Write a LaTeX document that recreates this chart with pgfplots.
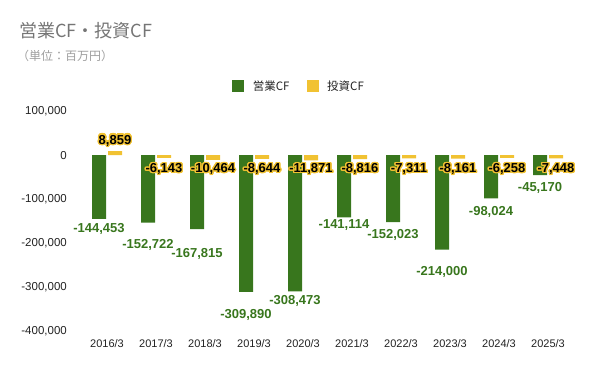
\documentclass[border=0pt]{standalone}
\usepackage{fontspec}
\setmainfont{Liberation Sans}
\newfontfamily\cjk{Noto Sans CJK JP}
\usepackage{pgfplots}
\usepackage{pgfplotstable}
\pgfplotsset{compat=1.18}
\usepackage{contour}
\contourlength{1.3pt}
\contournumber{24}
\definecolor{cfg}{HTML}{38761D}
\definecolor{cfy}{HTML}{F1C232}
\definecolor{titlegray}{HTML}{757575}
\definecolor{subgray}{HTML}{9E9E9E}
\definecolor{ticktext}{HTML}{222222}

% operating CF: value, label offset from bar end (bp)
\pgfplotstableread{
x val dy
0 -144453 -10
1 -152722 -22
2 -167815 -24.5
3 -309890 -23
4 -308473 -10
5 -141114 -8
6 -152023 -13
7 -214000 -22
8 -98024 -14
9 -45170 -12.7
}\opcf
% investing CF
\pgfplotstableread{
x val dy
0 8859 10
1 -6143 -11.8
2 -10464 -9.9
3 -8644 -10.7
4 -11871 -9.3
5 -8816 -10.6
6 -7311 -11.3
7 -8161 -10.9
8 -6258 -11.7
9 -7448 -11.2
}\invcf

\begin{document}
\begin{tikzpicture}
\useasboundingbox (0bp,0bp) rectangle (600bp,371bp);
\node[anchor=west, inner sep=0pt, text=titlegray, font=\cjk\fontsize{18bp}{20bp}\selectfont] at (19bp,340.5bp) {営業CF・投資CF};
\node[anchor=west, inner sep=0pt, text=subgray, font=\cjk\fontsize{12bp}{14bp}\selectfont] at (17bp,315.5bp) {（単位：百万円）};
\begin{axis}[
  at={(82.5bp,39.3bp)}, anchor=south west,
  scale only axis, width=490bp, height=220.7bp,
  xmin=-0.5, xmax=9.5, ymin=-400000, ymax=100000,
  ybar=2bp, bar width=14bp,
  axis line style={draw=none},
  major tick length=0pt,
  xtick={0,...,9},
  xticklabels={2016/3,2017/3,2018/3,2019/3,2020/3,2021/3,2022/3,2023/3,2024/3,2025/3},
  ytick={-400000,-300000,-200000,-100000,0,100000},
  scaled y ticks=false,
  yticklabel style={font=\fontsize{11.5bp}{12bp}\selectfont, text=ticktext, inner sep=0pt, anchor=east, xshift=-15.5bp,
    /pgf/number format/fixed, /pgf/number format/1000 sep={,}, /pgf/number format/assume math mode=true},
  xticklabel style={font=\fontsize{11bp}{12bp}\selectfont, text=ticktext, inner sep=0pt, anchor=base, yshift=-16.3bp},
  legend columns=2,
  legend style={at={(0.305,1.113)}, anchor=west, draw=none, fill=none, inner sep=0pt,
    font=\cjk\fontsize{11.5bp}{12bp}\selectfont, text=ticktext,
    /tikz/every even column/.append style={column sep=17bp},
    nodes={inner sep=0pt}},
]
\addplot[fill=cfg, draw=none,
  legend image code/.code={\fill[cfg] (0bp,-6bp) rectangle (12bp,6bp); \path (20.7bp,0bp);},
  nodes near coords, point meta=y,
  visualization depends on={\thisrow{dy} \as \mydy},
  every node near coord/.append style={anchor=center, yshift=\mydy bp, text=cfg, inner sep=0pt,
    font=\bfseries\fontsize{13bp}{14bp}\selectfont,
    /pgf/number format/fixed, /pgf/number format/1000 sep={,}, /pgf/number format/assume math mode=true}
] table[x=x, y=val] {\opcf};
\addlegendentry{営業CF}
\addplot[fill=cfy, draw=none,
  legend image code/.code={\fill[cfy] (0bp,-6bp) rectangle (12bp,6bp); \path (20.7bp,0bp);},
  nodes near coords={\contour{cfy}{\pgfmathprintnumber{\pgfplotspointmeta}}}, point meta=y,
  visualization depends on={\thisrow{dy} \as \mydy},
  every node near coord/.append style={anchor=center, yshift=\mydy bp, text=black, inner sep=0pt,
    font=\bfseries\fontsize{13bp}{14bp}\selectfont,
    /pgf/number format/fixed, /pgf/number format/1000 sep={,}, /pgf/number format/assume math mode=true}
] table[x=x, y=val] {\invcf};
\addlegendentry{投資CF}
\end{axis}
\end{tikzpicture}
\end{document}
